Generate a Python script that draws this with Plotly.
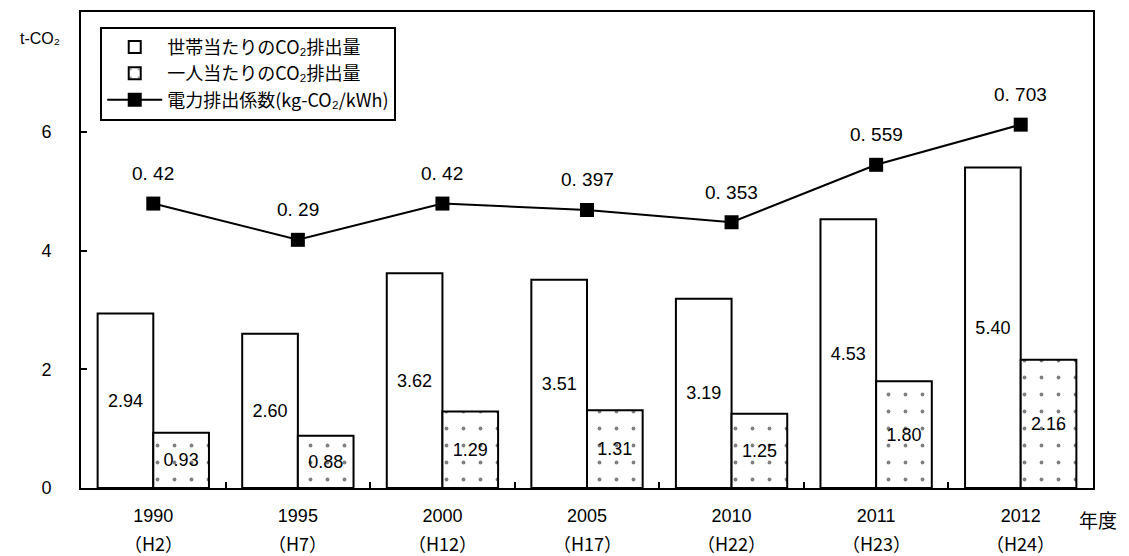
import plotly.graph_objects as go

years = ["1990", "1995", "2000", "2005", "2010", "2011", "2012"]
heisei = ["H2", "H7", "H12", "H17", "H22", "H23", "H24"]
household = [2.94, 2.60, 3.62, 3.51, 3.19, 4.53, 5.40]
per_person = [0.93, 0.88, 1.29, 1.31, 1.25, 1.80, 2.16]
emission_factor = [0.42, 0.29, 0.42, 0.397, 0.353, 0.559, 0.703]

FONT = "Noto Sans CJK JP, Arial, sans-serif"
NUM = "Arial, Liberation Sans, sans-serif"

fig = go.Figure()
fig.add_trace(go.Bar(
    x=years, y=household, name="世帯当たりのCO₂排出量",
    marker=dict(color="white", line=dict(color="black", width=2)),
    text=[f"{v:.2f}" for v in household], textposition="inside",
    insidetextanchor="middle", textangle=0,
    textfont=dict(size=18, color="black", family=NUM),
))
fig.add_trace(go.Bar(
    x=years, y=per_person, name="一人当たりのCO₂排出量",
    marker=dict(color="white", line=dict(color="black", width=2),
                pattern=dict(shape=".", fgcolor="black", bgcolor="white",
                             size=17, solidity=0.04)),
    text=[f"{v:.2f}" for v in per_person], textposition="inside",
    insidetextanchor="middle", textangle=0,
    textfont=dict(size=18, color="black", family=NUM),
))
fig.add_trace(go.Scatter(
    x=years, y=emission_factor, name="電力排出係数(kg-CO₂/kWh)",
    yaxis="y2", mode="lines+markers",
    line=dict(color="black", width=2),
    marker=dict(symbol="square", size=14, color="black"),
))

# annotations on a category axis are placed by category index
for i, v in enumerate(emission_factor):
    fig.add_annotation(x=i, y=v, yref="y2", text=str(v).replace(".", ". "),
                       showarrow=False, yshift=30, yanchor="middle",
                       font=dict(size=19, color="black", family=NUM))

for i, h in enumerate(heisei):
    fig.add_annotation(x=i, yref="paper", y=-0.115, text=f"（{h}）",
                       showarrow=False, yanchor="middle",
                       font=dict(size=18, color="black", family=FONT))

fig.add_annotation(xref="paper", yref="paper", x=-0.0405, y=0.9435,
                   text="t-CO₂", showarrow=False, xanchor="center",
                   yanchor="middle",
                   font=dict(size=16, color="black", family=NUM))
fig.add_annotation(xref="paper", yref="paper", x=1.005, y=-0.067,
                   text="年度", showarrow=False, xanchor="center",
                   yanchor="middle",
                   font=dict(size=19, color="black", family=FONT))

# the page body has an 8px margin, so the figure is shrunk by 8px
fig.update_layout(
    width=1121, height=548,
    margin=dict(l=73, r=36, t=2, b=68),
    paper_bgcolor="white", plot_bgcolor="white",
    barmode="group", bargap=0.23, bargroupgap=0,
    font=dict(family=FONT, color="black"),
    showlegend=True,
    legend=dict(x=0.019, y=0.969, xanchor="left", yanchor="top",
                bgcolor="white", bordercolor="black", borderwidth=2,
                font=dict(size=18, family=FONT, color="black"),
                itemwidth=55, tracegroupgap=0),
    xaxis=dict(type="category", tickangle=0, range=[-0.5, len(years) - 0.5],
               showline=True, linecolor="black", linewidth=2, mirror=True,
               ticks="inside", ticklen=6, tickcolor="black", tickwidth=2,
               tickson="boundaries", showgrid=False, ticklabelstandoff=10,
               tickfont=dict(size=18, family=NUM, color="black")),
    yaxis=dict(range=[0, 8.02], tickvals=[0, 2, 4, 6],
               showline=True, linecolor="black", linewidth=2, mirror=True,
               ticks="inside", ticklen=6, tickcolor="black", tickwidth=2,
               ticklabelstandoff=24,
               showgrid=False, zeroline=False,
               tickfont=dict(size=18, family=NUM, color="black")),
    yaxis2=dict(overlaying="y", range=[-0.6, 1.107], visible=False,
                showgrid=False, zeroline=False),
)

fig.write_html("out.html")
